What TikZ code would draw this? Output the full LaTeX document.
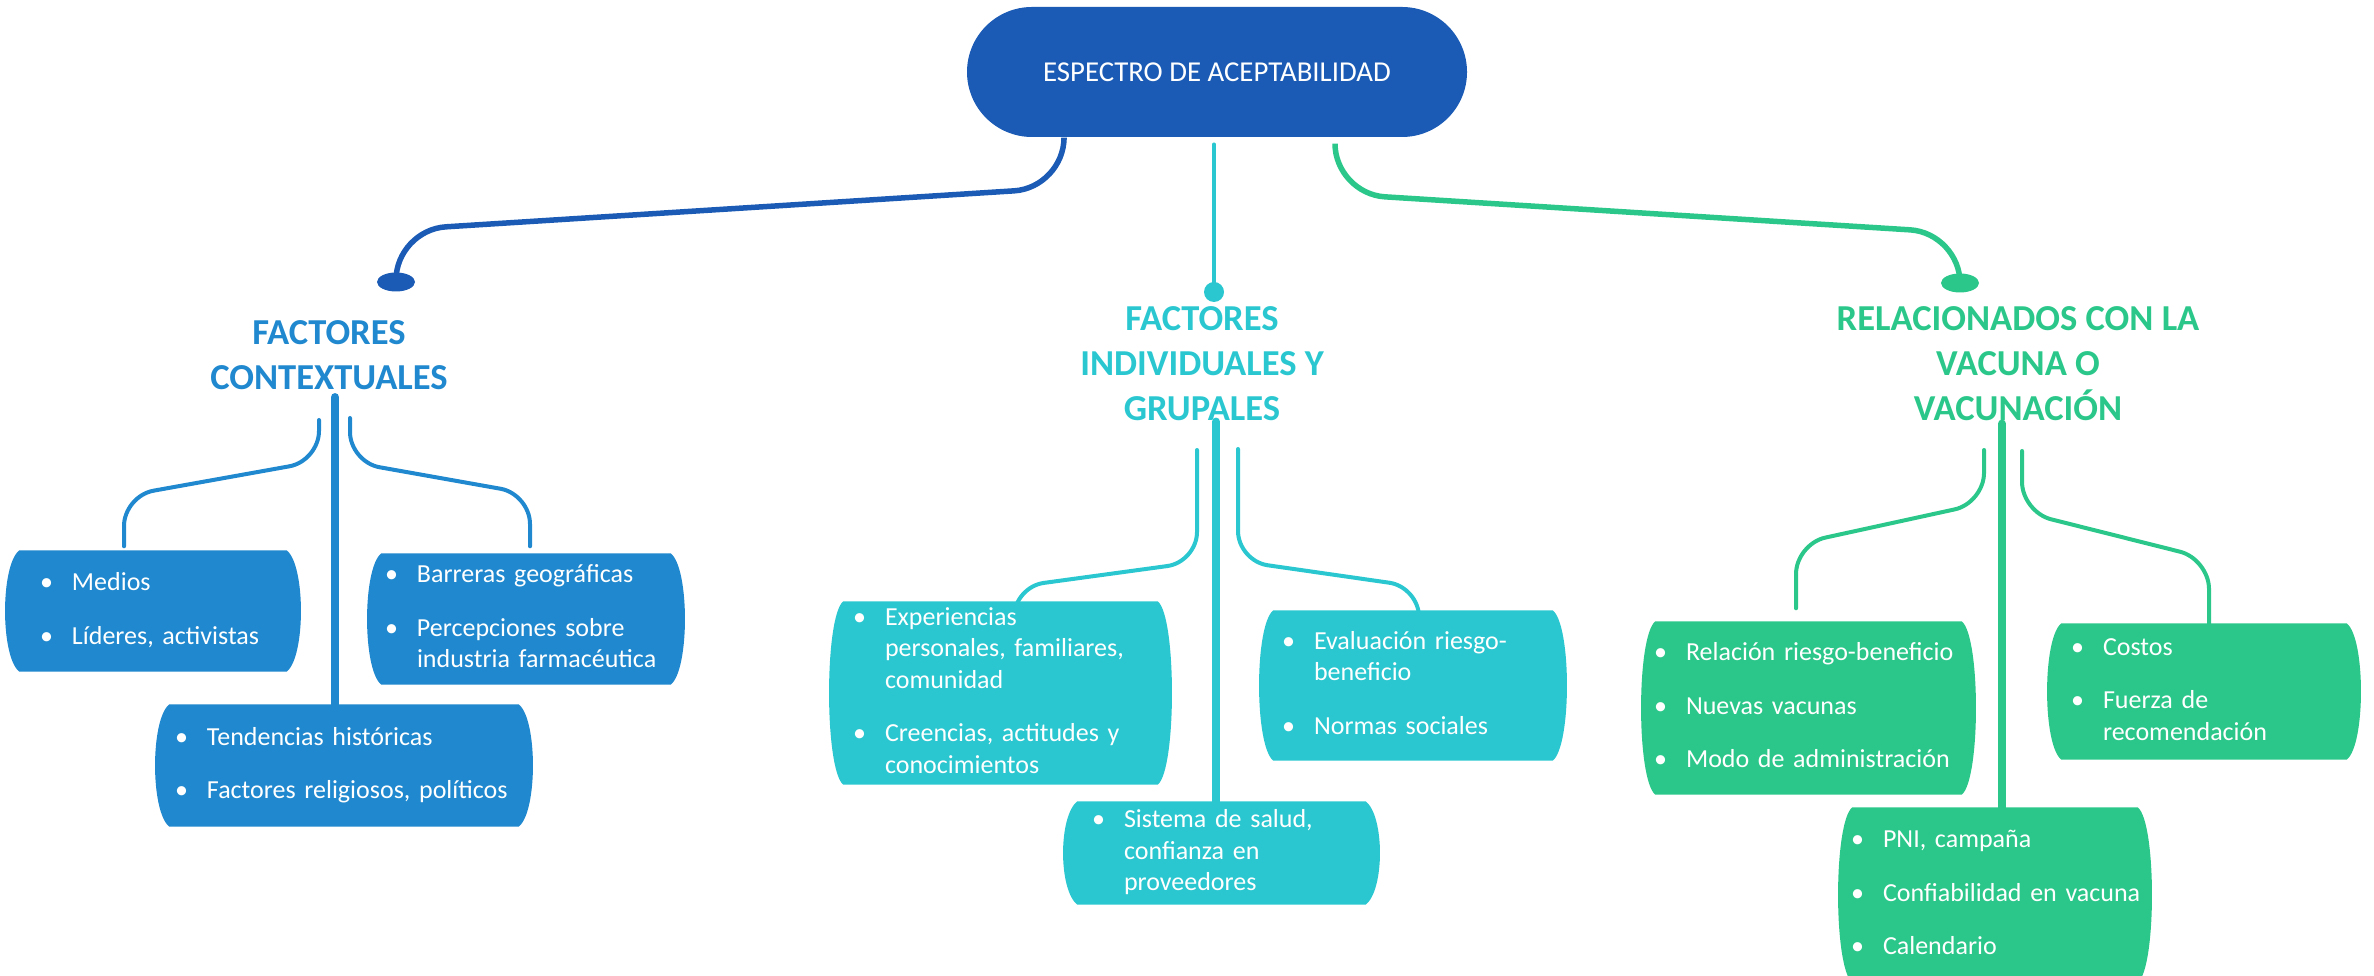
\documentclass[tikz,border=0pt]{standalone}
\usepackage{fontspec}
\setmainfont{Carlito}
\usepackage{tikz}
\usetikzlibrary{calc,shapes.geometric,backgrounds}
\definecolor{raizazul}{HTML}{1B5BB5}
\definecolor{azul}{HTML}{1F88CE}
\definecolor{turquesa}{HTML}{2AC7D0}
\definecolor{verde}{HTML}{2BC78A}
\newcommand{\lista}[2]{\hspace*{#1}\begin{tabular}{@{}p{3.2mm}@{}l@{}}#2\end{tabular}}
\newcommand{\barril}[2]{\fill[#2] (#1.north west) -- (#1.north east)
  .. controls ([xshift=1.9mm,yshift=-1.5mm]#1.north east) and ([xshift=1.9mm,yshift=1.5mm]#1.south east) .. (#1.south east)
  -- (#1.south west)
  .. controls ([xshift=-1.9mm,yshift=1.5mm]#1.south west) and ([xshift=-1.9mm,yshift=-1.5mm]#1.north west) .. cycle;}
\tikzset{
  raiz/.style={fill=raizazul, text=white, rounded corners=6.5mm, minimum width=50mm, minimum height=13mm, font=\fontsize{8.2}{10}\selectfont},
  titulo/.style={align=center, inner sep=0pt, font=\fontsize{10.4}{12.8}\selectfont\bfseries},
  punto/.style={ellipse, inner sep=0pt, minimum width=3.8mm, minimum height=1.9mm},
  enlace/.style={line width=0.55mm, rounded corners=5mm, line cap=round},
  tallo/.style={line width=0.85mm, line cap=round},
  rama/.style={line width=0.4mm, rounded corners=3mm, line cap=round},
  caja/.style={text=white, text width=#1, inner xsep=0pt, inner ysep=0pt, align=left, font=\fontsize{7.4}{9}\selectfont},
}

\begin{document}
\begin{tikzpicture}[x=0.1mm, y=-0.1mm]
  \useasboundingbox (0,0) rectangle (2374,976);

  \node[raiz] (raiz) at (1217,72) {ESPECTRO DE ACEPTABILIDAD};

  \node[punto, fill=raizazul] (p1) at (396,282) {};
  \node[punto, fill=turquesa, minimum width=2mm, minimum height=2mm] (p2) at (1214,292) {};
  \node[punto, fill=verde] (p3) at (1960,283) {};

  \draw[enlace, raizazul] ([xshift=-15.3mm,yshift=-0.2mm]raiz.south) -- ++(0,48) -- (396,230) -- (p1.center);
  \draw[enlace, line width=0.45mm, turquesa] ($(p2 |- raiz.south)+(0,7)$) -- (p2.center);
  \draw[enlace, verde] ([xshift=11.8mm,yshift=-0.8mm]raiz.south) -- ++(0,48) -- (1960,233) -- (p3.center);

  \node[titulo, text=azul] (contexto) at (329,355) {FACTORES\\CONTEXTUALES};
  \node[titulo, text=turquesa] (individual) at (1202,364) {FACTORES\\INDIVIDUALES Y\\GRUPALES};
  \node[titulo, text=verde] (vacuna) at (2018,364) {RELACIONADOS CON LA\\VACUNA O\\VACUNACIÓN};

  % factores contextuales
  \node[caja=26.6mm, minimum height=12mm] (medios) at (153,611)
    {\lista{2mm}{\textbullet & Medios\\[6.2pt] \textbullet & Líderes, activistas}};
  \node[caja=28.8mm, minimum height=13mm] (barreras) at (526,619)
    {\lista{0.3mm}{\textbullet & Barreras geográficas\\[6.2pt] \textbullet & Percepciones sobre\\ & industria farmacéutica}};
  \node[caja=34.8mm, minimum height=12.1mm] (tendencias) at (344,765.5)
    {\lista{0.5mm}{\textbullet & Tendencias históricas\\[6.2pt] \textbullet & Factores religiosos, políticos}};

  % factores individuales y grupales
  \node[caja=31.3mm, minimum height=18.2mm] (experiencias) at (1000.5,693)
    {\lista{0.9mm}{\textbullet & Experiencias\\ & personales, familiares,\\ & comunidad\\[6.2pt] \textbullet & Creencias, actitudes y\\ & conocimientos}};
  \node[caja=27.8mm, minimum height=14.9mm] (evaluacion) at (1413,685.5)
    {\lista{0.8mm}{\textbullet & Evaluación riesgo-\\ & beneficio\\[6.2pt] \textbullet & Normas sociales}};
  \node[caja=28.7mm, minimum height=10.2mm] (sistema) at (1221.5,853)
    {\lista{1.4mm}{\textbullet & Sistema de salud,\\ & confianza en\\ & proveedores}};

  % relacionados con la vacuna
  \node[caja=30.5mm, minimum height=17.2mm] (relacion) at (1808.5,708)
    {\lista{-0.2mm}{\textbullet & Relación riesgo-beneficio\\[6.2pt] \textbullet & Nuevas vacunas\\[6.2pt] \textbullet & Modo de administración}};
  \node[caja=28.4mm, minimum height=13.5mm] (costos) at (2204,691.5)
    {\lista{0.9mm}{\textbullet & Costos\\[6.2pt] \textbullet & Fuerza de\\ & recomendación}};
  \node[caja=28.4mm, minimum height=17.4mm] (pni) at (1995,895)
    {\lista{-0.2mm}{\textbullet & PNI, campaña\\[6.2pt] \textbullet & Confiabilidad en vacuna\\[6.2pt] \textbullet & Calendario}};

  \coordinate (ctxL) at (319,420);
  \coordinate (ctxR) at (350,418);
  \coordinate (indL) at (1197,450);
  \coordinate (indR) at (1238,449);
  \coordinate (vacL) at (1984,450);
  \coordinate (vacR) at (2022,451);

  \begin{scope}[on background layer]
    % tallos
    \draw[tallo, azul] ($(contexto.south)+(6,7)$) -- ($(contexto.south |- tendencias.north)+(6,0)$);
    \draw[tallo, turquesa] ($(individual.south)+(14,0)$) -- ($(individual.south |- sistema.north)+(14,0)$);
    \draw[tallo, verde] ($(vacuna.south)+(-16,2)$) -- ($(vacuna.south |- pni.north)+(-16,0)$);
    % ramas
    \draw[rama, azul] (ctxL) -- (319,461) -- (124,496) -- ($(medios.north)+(-29,-4)$);
    \draw[rama, azul] (ctxR) -- (350,462) -- (530,494) -- ($(barreras.north)+(4,-7)$);
    \draw[rama, turquesa] (indL) -- (1197,562) -- (1014,587) -- ($(experiencias.north)+(13.5,20)$);
    \draw[rama, turquesa] (indR) -- (1238,561) -- (1419,587) -- ($(evaluacion.north)+(6,15)$);
    \draw[rama, verde] (vacL) -- (1984,503) -- (1796,544) -- ($(relacion.north)+(-12.5,-13)$);
    \draw[rama, verde] (vacR) -- (2022,512) -- (2209,559) -- ($(costos.north)+(5,5)$);
    % cajas
    \barril{medios}{azul}
    \barril{barreras}{azul}
    \barril{tendencias}{azul}
    \barril{experiencias}{turquesa}
    \barril{evaluacion}{turquesa}
    \barril{sistema}{turquesa}
    \barril{relacion}{verde}
    \barril{costos}{verde}
    \barril{pni}{verde}
  \end{scope}
\end{tikzpicture}
\end{document}
